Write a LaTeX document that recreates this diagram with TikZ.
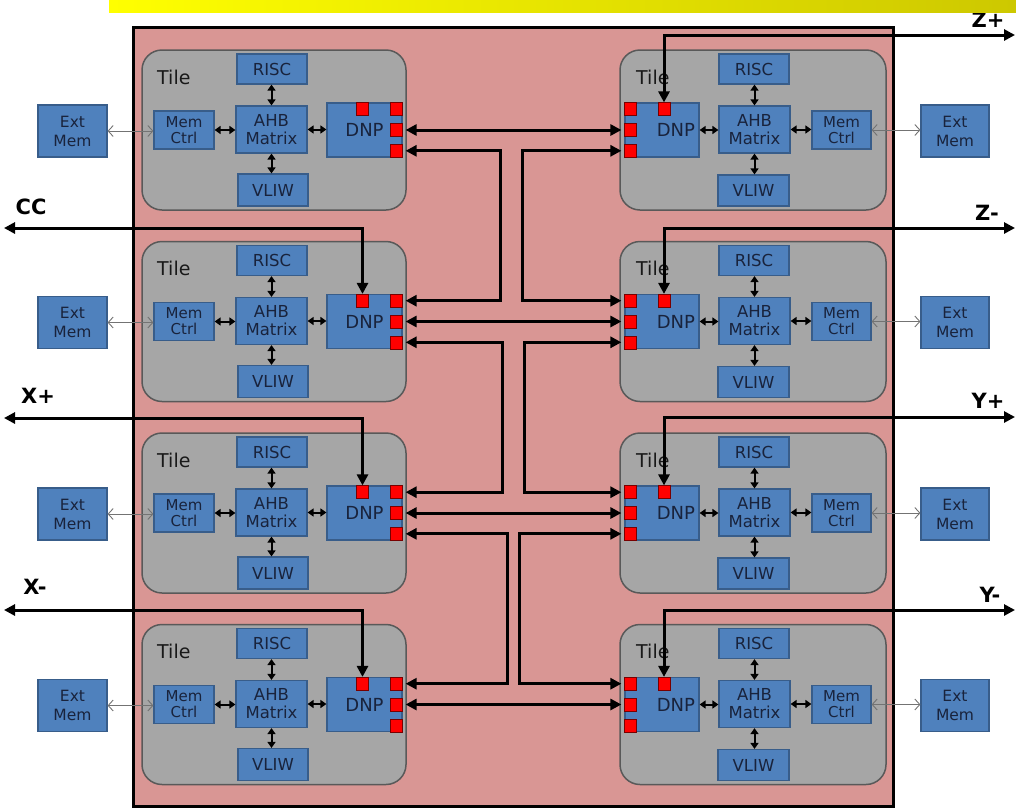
\documentclass[tikz,border=0pt]{standalone}
\usepackage{fontspec}
\setmainfont{DejaVu Sans}
\usepackage{xcolor}
\usepackage{tikz}
\usetikzlibrary{arrows.meta,positioning,calc}

\definecolor{unitblue}{RGB}{79,129,189}
\definecolor{unitedge}{RGB}{56,93,138}
\definecolor{unittext}{RGB}{25,35,60}
\definecolor{tilegray}{RGB}{166,166,166}
\definecolor{tileedge}{RGB}{89,89,89}
\definecolor{chippink}{RGB}{217,150,148}
\definecolor{portedge}{RGB}{120,0,0}
\definecolor{baryellow}{RGB}{255,255,0}
\definecolor{barolive}{RGB}{205,200,0}

\begin{document}
\begin{tikzpicture}[
            x=1pt, y=-1pt,
        % outer chip and the tile frames
            chipbox/.style={draw, line width=3pt, fill=chippink, inner sep=0pt},
            tilebox/.style={draw=tileedge, line width=1.5pt, fill=tilegray,
            rounded corners=20pt, inner sep=0pt},
            tilelbl/.style={font=\fontsize{19}{19}\selectfont, text=black!90, inner sep=0pt},
        % functional units inside a tile
            unit/.style={draw=unitedge, line width=1.2pt, fill=unitblue, text=unittext,
            align=center, inner sep=0pt, font=\fontsize{16.5}{18}\selectfont},
            port/.style={draw=portedge, line width=0.6pt, fill=red,
            minimum width=12pt, minimum height=13pt, inner sep=0pt},
            dirlbl/.style={font=\bfseries\fontsize{21}{21}\selectfont, inner sep=0pt},
        % connectors
            bus/.style={{Triangle[length=6pt,width=8pt]}-{Triangle[length=6pt,width=8pt]},
            line width=2pt},
            memlink/.style={{Straight Barb[length=5pt,width=11pt]}-{Straight Barb[length=5pt,width=11pt]},
            draw=black!55, line width=0.9pt},
            link/.style={{Triangle[length=11pt,width=11pt]}-{Triangle[length=11pt,width=11pt]},
            line width=3pt, shorten <=3pt, shorten >=3pt},
            extlink/.style={{Triangle[length=11pt,width=11pt]}-{Triangle[length=11pt,width=11pt]},
            line width=3pt}
        ]
            \useasboundingbox (0,0) rectangle (1016,809);

% --- chip ---
            \node[chipbox, minimum width=760pt, minimum height=779pt] (chip) at (513,416.5) {};

% --- left column of tiles ---
            \foreach \k [evaluate=\k as \yo using 191.5*(\k-1)] in {1,...,4} {
            \node[tilebox, minimum width=264pt, minimum height=160pt] (l\k-tile) at (274,130+\yo) {};
            \node[tilelbl, anchor=west] (l\k-lbl) at (157,77+\yo) {Tile};
            \node[unit, minimum width=70pt, minimum height=30pt] (l\k-risc) at (272,69+\yo) {RISC};
            \node[unit, minimum width=71pt, minimum height=47pt] (l\k-ahb) at (271.5,129.5+\yo) {AHB\\Matrix};
            \node[unit, minimum width=70pt, minimum height=32pt] (l\k-vliw) at (273,190+\yo) {VLIW};
            \node[unit, minimum width=60pt, minimum height=38pt, font=\fontsize{15}{16}\selectfont] (l\k-mc) at (184,130+\yo) {Mem\\Ctrl};
            \node[unit, minimum width=75pt, minimum height=54pt, font=\fontsize{18}{18}\selectfont] (l\k-dnp) at (364.5,130+\yo) {DNP};
            \node[unit, minimum width=69pt, minimum height=52pt, font=\fontsize{15.5}{19}\selectfont] (l\k-ext) at (72.5,131+\yo) {Ext\\Mem};
            \node[port, anchor=north east] (l\k-pa) at (l\k-dnp.north east) {};
            \node[port, anchor=east] (l\k-pb) at (l\k-dnp.east) {};
            \node[port, anchor=south east] (l\k-pc) at (l\k-dnp.south east) {};
            \node[port, anchor=north] (l\k-pt) at ([xshift=-2pt]l\k-dnp.north) {};
            \draw[bus] (l\k-risc.south -| l\k-ahb.north) -- (l\k-ahb.north);
            \draw[bus] (l\k-ahb.south) -- (l\k-ahb.south |- l\k-vliw.north);
            \draw[bus] (l\k-mc.east) -- (l\k-mc.east -| l\k-ahb.west);
            \draw[bus] (l\k-ahb.east) -- (l\k-ahb.east -| l\k-dnp.west);
            \draw[memlink] (l\k-ext.east) -- (l\k-ext.east -| l\k-mc.west);
            }

% --- right column of tiles ---
            \foreach \k [evaluate=\k as \yo using 191.5*(\k-1)] in {1,...,4} {
            \node[tilebox, minimum width=266pt, minimum height=160pt] (r\k-tile) at (753,130+\yo) {};
            \node[tilelbl, anchor=west] (r\k-lbl) at (636,77+\yo) {Tile};
            \node[unit, minimum width=70pt, minimum height=30pt] (r\k-risc) at (754,69+\yo) {RISC};
            \node[unit, minimum width=71pt, minimum height=47pt] (r\k-ahb) at (754.5,129.5+\yo) {AHB\\Matrix};
            \node[unit, minimum width=71pt, minimum height=31pt] (r\k-vliw) at (753.5,190.5+\yo) {VLIW};
            \node[unit, minimum width=59pt, minimum height=38pt, font=\fontsize{15}{16}\selectfont] (r\k-mc) at (841.5,130+\yo) {Mem\\Ctrl};
            \node[unit, minimum width=74pt, minimum height=54pt, font=\fontsize{18}{18}\selectfont, text width=66pt, align=right] (r\k-dnp) at (662,130+\yo) {DNP};
            \node[unit, minimum width=68pt, minimum height=52pt, font=\fontsize{15.5}{19}\selectfont] (r\k-ext) at (955,131+\yo) {Ext\\Mem};
            \node[port, anchor=north west] (r\k-pa) at (r\k-dnp.north west) {};
            \node[port, anchor=west] (r\k-pb) at (r\k-dnp.west) {};
            \node[port, anchor=south west] (r\k-pc) at (r\k-dnp.south west) {};
            \node[port, anchor=north] (r\k-pt) at ([xshift=2pt]r\k-dnp.north) {};
            \draw[bus] (r\k-risc.south -| r\k-ahb.north) -- (r\k-ahb.north);
            \draw[bus] (r\k-ahb.south) -- (r\k-ahb.south |- r\k-vliw.north);
            \draw[bus] (r\k-dnp.east) -- (r\k-dnp.east -| r\k-ahb.west);
            \draw[bus] (r\k-ahb.east) -- (r\k-ahb.east -| r\k-mc.west);
            \draw[memlink] (r\k-mc.east) -- (r\k-mc.east -| r\k-ext.west);
            }

% --- DNP to DNP links ---
            \foreach \k in {1,...,4}
            \draw[link] (l\k-pb.east) -- (r\k-pb.west);
            \draw[link] (l1-pc.east) -- ++(98,0) |- (l2-pa.east);
            \draw[link] (l2-pc.east) -- ++(100,0) |- (l3-pa.east);
            \draw[link] (l3-pc.east) -- ++(105,0) |- (l4-pa.east);
            \draw[link] (r1-pc.west) -- ++(-102,0) |- (r2-pa.west);
            \draw[link] (r2-pc.west) -- ++(-100,0) |- (r3-pa.west);
            \draw[link] (r3-pc.west) -- ++(-105,0) |- (r4-pa.west);

% --- off-chip links ---
            \coordinate (zplus)  at (1015,35);
            \coordinate (zminus) at (1015,228);
            \coordinate (yplus)  at (1015,417);
            \coordinate (yminus) at (1015,610);
            \coordinate (ccout)  at (4,228);
            \coordinate (xplus)  at (4,418);
            \coordinate (xminus) at (4,610);
            \draw[extlink] (r1-pt.north) |- (zplus);
            \draw[extlink] (r2-pt.north) |- (zminus);
            \draw[extlink] (r3-pt.north) |- (yplus);
            \draw[extlink] (r4-pt.north) |- (yminus);
            \draw[extlink] (l2-pt.north) |- (ccout);
            \draw[extlink] (l3-pt.north) |- (xplus);
            \draw[extlink] (l4-pt.north) |- (xminus);

            \node[dirlbl] (zpl) at (988,20) {Z+};
            \node[dirlbl] (zml) at (987,213) {Z-};
            \node[dirlbl] (ypl) at (988,401) {Y+};
            \node[dirlbl] (yml) at (990,595) {Y-};
            \node[dirlbl] (ccl) at (31,207) {CC};
            \node[dirlbl] (xpl) at (38,396) {X+};
            \node[dirlbl] (xml) at (35,587) {X-};

% --- title bar strip ---
            \shade[left color=baryellow, right color=barolive] (109,0) rectangle (1016,12);
        \end{tikzpicture}
\end{document}
